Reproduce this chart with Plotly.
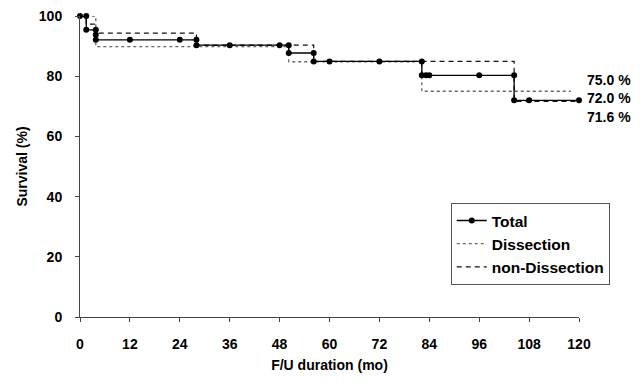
import plotly.graph_objects as go

# Kaplan-Meier style step data (months, survival %)
t_total = [0, 1.5, 1.5, 3.8, 3.8, 3.8, 12, 24, 28, 28, 36, 48, 50.2, 50.2, 56.2, 56.2,
           60, 72, 82.2, 82.2, 83.2, 84, 96, 104.4, 104.4, 108, 120]
s_total = [100, 100, 95.4, 95.4, 93.8, 92.1, 92.1, 92.1, 92.1, 90.3, 90.3, 90.3, 90.3, 87.7,
           87.7, 84.9, 84.9, 84.9, 84.9, 80.3, 80.3, 80.3, 80.3, 80.3, 72.0, 72.0, 72.0]

t_dis = [0, 3.8, 50.2, 82.2, 118]
s_dis = [100, 89.8, 84.8, 75.0, 75.0]

t_non = [0, 1.5, 3.8, 28, 56.2, 104.4, 120]
s_non = [100, 97.3, 94.3, 90.3, 84.9, 71.6, 71.6]

end_labels = ["75.0 %", "72.0 %", "71.6 %"]
end_label_y = [78.6, 72.6, 66.6]

x_ticks = [0, 12, 24, 36, 48, 60, 72, 84, 96, 108, 120]
y_ticks = [0, 20, 40, 60, 80, 100]

FONT = "Liberation Sans, Arial, sans-serif"

fig = go.Figure()
fig.add_trace(go.Scatter(
    x=t_dis, y=s_dis, mode="lines", name="Dissection", line_shape="hv",
    line=dict(color="#666666", width=1.3, dash="dot"), legendrank=2, cliponaxis=False))
fig.add_trace(go.Scatter(
    x=t_non, y=s_non, mode="lines", name="non-Dissection", line_shape="hv",
    line=dict(color="#111111", width=1.2, dash="5px,4px"), legendrank=3, cliponaxis=False))
fig.add_trace(go.Scatter(
    x=t_total, y=s_total, mode="lines+markers", name="Total", line_shape="hv",
    line=dict(color="#000000", width=1.3),
    marker=dict(symbol="circle", size=6, color="#000000"), legendrank=1, cliponaxis=False))

for txt, yv in zip(end_labels, end_label_y):
    fig.add_annotation(x=120, y=yv, xref="x", yref="y", text=txt, showarrow=False,
                       xanchor="left", yanchor="middle", xshift=6,
                       font=dict(family=FONT, size=14, color="#000", weight="bold"))

axis_common = dict(
    showgrid=False, zeroline=False, showline=True, linecolor="#444444", linewidth=1,
    ticks="outside", ticklen=4, tickcolor="#444444", tickwidth=1, automargin=False,
    tickfont=dict(family=FONT, size=14, color="#000", weight="bold"),
)

fig.update_layout(
    width=640, height=382,
    margin=dict(l=80, r=61, t=16, b=65),
    paper_bgcolor="white", plot_bgcolor="white",
    showlegend=True,
    legend=dict(x=0.743, y=0.379, xanchor="left", yanchor="top",
                bordercolor="#555555", borderwidth=1, bgcolor="white",
                font=dict(family=FONT, size=15.5, color="#000", weight="bold"),
                itemwidth=30, tracegroupgap=0),
    xaxis=dict(range=[0, 120], tickvals=x_ticks, ticktext=[str(v) for v in x_ticks],
               title=dict(text="F/U duration (mo)", standoff=9,
                          font=dict(family=FONT, size=14, color="#000", weight="bold")),
               ticklabelstandoff=10, **axis_common),
    yaxis=dict(range=[0, 100], tickvals=y_ticks, ticktext=[str(v) for v in y_ticks],
               title=dict(text="Survival (%)", standoff=7,
                          font=dict(family=FONT, size=14, color="#000", weight="bold")),
               ticklabelstandoff=10, **axis_common),
)

fig.write_html("out.html")
